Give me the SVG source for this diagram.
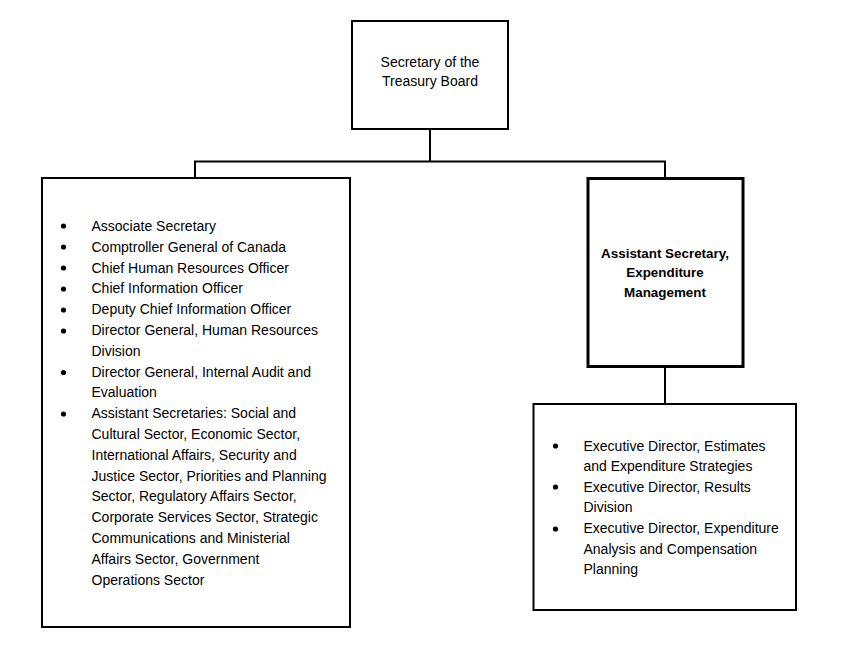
<svg xmlns="http://www.w3.org/2000/svg" width="855" height="669" viewBox="0 0 855 669">
<style>
  .box { fill: #ffffff; stroke: #000000; stroke-width: 2; }
  .bold-box { fill: #ffffff; stroke: #000000; stroke-width: 3; }
  .conn { fill: none; stroke: #000000; stroke-width: 2; }
  text { font-family: "Liberation Sans", Arial, sans-serif; font-size: 14px; fill: #000000; }
  .c { text-anchor: middle; }
  .b { font-weight: bold; font-size: 13.4px; }
  .dot { fill: #000000; }
</style>
<rect width="855" height="669" fill="#ffffff"/>
<g id="connectors">
  <path class="conn" d="M430,129 V161.5 M195,178 V161.5 H665 V178"/>
  <path class="conn" d="M665,367 V404"/>
</g>
<g id="secretary">
  <rect class="box" x="352" y="21" width="156" height="108"/>
  <text class="c" x="430" y="67">Secretary of the</text>
  <text class="c" x="430" y="86">Treasury Board</text>
</g>
<g id="left-list">
  <rect class="box" x="42" y="178" width="308" height="449"/>
  <circle class="dot" cx="63.5" cy="226" r="2.6"/>
  <circle class="dot" cx="63.5" cy="247" r="2.6"/>
  <circle class="dot" cx="63.5" cy="268" r="2.6"/>
  <circle class="dot" cx="63.5" cy="289" r="2.6"/>
  <circle class="dot" cx="63.5" cy="310" r="2.6"/>
  <circle class="dot" cx="63.5" cy="331" r="2.6"/>
  <circle class="dot" cx="63.5" cy="372.5" r="2.6"/>
  <circle class="dot" cx="63.5" cy="414" r="2.6"/>
  <text x="91.5" y="231">Associate Secretary</text>
  <text x="91.5" y="251.8">Comptroller General of Canada</text>
  <text x="91.5" y="272.6">Chief Human Resources Officer</text>
  <text x="91.5" y="293.4">Chief Information Officer</text>
  <text x="91.5" y="314.2">Deputy Chief Information Officer</text>
  <text x="91.5" y="335">Director General, Human Resources</text>
  <text x="91.5" y="355.8">Division</text>
  <text x="91.5" y="376.6">Director General, Internal Audit and</text>
  <text x="91.5" y="397.4">Evaluation</text>
  <text x="91.5" y="418.2">Assistant Secretaries: Social and</text>
  <text x="91.5" y="439">Cultural Sector, Economic Sector,</text>
  <text x="91.5" y="459.8">International Affairs, Security and</text>
  <text x="91.5" y="480.6">Justice Sector, Priorities and Planning</text>
  <text x="91.5" y="501.4">Sector, Regulatory Affairs Sector,</text>
  <text x="91.5" y="522.2">Corporate Services Sector, Strategic</text>
  <text x="91.5" y="543">Communications and Ministerial</text>
  <text x="91.5" y="563.8">Affairs Sector, Government</text>
  <text x="91.5" y="584.6">Operations Sector</text>
</g>
<g id="expenditure-management">
  <rect class="bold-box" x="588" y="178.5" width="155" height="188"/>
  <text class="c b" x="665" y="257.5">Assistant Secretary,</text>
  <text class="c b" x="665" y="277">Expenditure</text>
  <text class="c b" x="665" y="296.5">Management</text>
</g>
<g id="right-list">
  <rect class="box" x="533.5" y="404" width="262.5" height="206"/>
  <circle class="dot" cx="555.5" cy="446" r="2.6"/>
  <circle class="dot" cx="555.5" cy="487" r="2.6"/>
  <circle class="dot" cx="555.5" cy="529" r="2.6"/>
  <text x="583.5" y="450.5">Executive Director, Estimates</text>
  <text x="583.5" y="471">and Expenditure Strategies</text>
  <text x="583.5" y="491.7">Executive Director, Results</text>
  <text x="583.5" y="512.3">Division</text>
  <text x="583.5" y="533">Executive Director, Expenditure</text>
  <text x="583.5" y="553.5">Analysis and Compensation</text>
  <text x="583.5" y="574">Planning</text>
</g>
</svg>
